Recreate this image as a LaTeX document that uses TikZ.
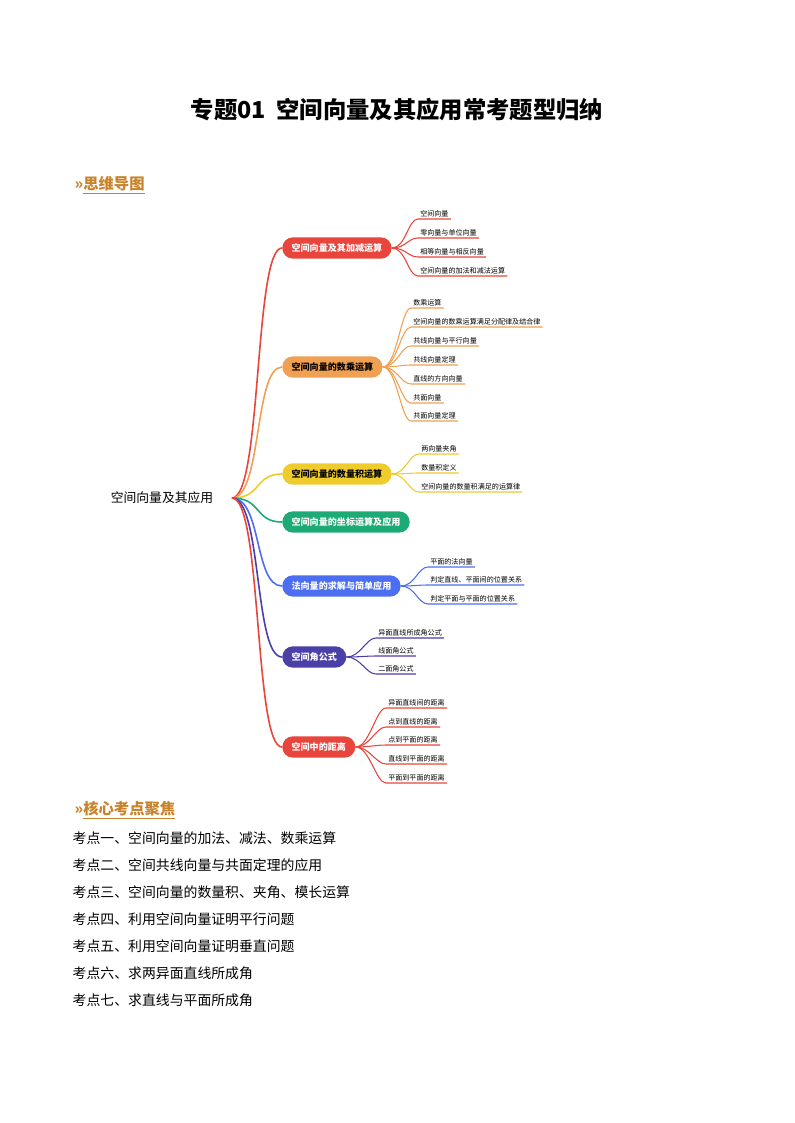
\documentclass[tikz,border=0pt]{standalone}
\usepackage{fontspec}
\setmainfont{Noto Sans CJK SC}
\usetikzlibrary{positioning}
\definecolor{cRed}{HTML}{E8453C}
\definecolor{cOrange}{HTML}{F0A052}
\definecolor{cYellow}{HTML}{EFCB2B}
\definecolor{cGreen}{HTML}{1DAA74}
\definecolor{cBlue}{HTML}{4C6EF0}
\definecolor{cPurple}{HTML}{4B3FA8}
\definecolor{cHead}{HTML}{C8822A}
\tikzset{
  branch/.style={rounded corners=8pt,minimum height=16pt,inner xsep=7pt,font=\fontsize{6.8}{8}\selectfont\bfseries,anchor=west},
  leaf/.style={anchor=south west,inner sep=1.5pt,font=\fontsize{5.3}{6}\selectfont},
  item/.style={anchor=west,font=\fontsize{10.4}{12}\selectfont},
}
\begin{document}
\begin{tikzpicture}[x=0.75pt,y=-0.75pt]
      \useasboundingbox (0,0) rectangle (794,1123);

      \node (title) at (397,110) {\fontsize{17.5}{20}\selectfont\bfseries 专题01\ \ 空间向量及其应用常考题型归纳};
      \node[anchor=west,text=cHead] (head1) at (70,185) {\fontsize{11.5}{13}\selectfont\bfseries »\underline{思维导图}};
      \node[anchor=west,text=cHead] (head2) at (70,810) {\fontsize{11.5}{13}\selectfont\bfseries »\underline{核心考点聚焦}};

      \node[font=\fontsize{9.6}{11}\selectfont] (root) at (162,498) {空间向量及其应用};
      \coordinate (rootend) at (232,498);

      % branches
      \node[branch,fill=cRed,text=white] (b1) at (282,248) {空间向量及其加减运算};
      \node[branch,fill=cOrange] (b2) at (282,367) {空间向量的数乘运算};
      \node[branch,fill=cYellow] (b3) at (282,474) {空间向量的数量积运算};
      \node[branch,fill=cGreen,text=white] (b4) at (282,522) {空间向量的坐标运算及应用};
      \node[branch,fill=cBlue,text=white] (b5) at (282,586) {法向量的求解与简单应用};
      \node[branch,fill=cPurple,text=white] (b6) at (282,657) {空间角公式};
      \node[branch,fill=cRed,text=white] (b7) at (282,747) {空间中的距离};

      \foreach \b/\c in {b1/cRed,b2/cOrange,b3/cYellow,b4/cGreen,b5/cBlue,b6/cPurple,b7/cRed}
        \draw[\c,line width=1.2pt] (rootend) .. controls +(30,0) and +(-28,0) .. (\b.west);

      % leaves
      \foreach \b/\c/\x/\y/\t [count=\i] in {
        b1/cRed/418/219/空间向量, b1/cRed/418/238/零向量与单位向量, b1/cRed/418/257/相等向量与相反向量, b1/cRed/418/276/空间向量的加法和减法运算,
        b2/cOrange/411/308/数乘运算, b2/cOrange/411/327/空间向量的数乘运算满足分配律及结合律, b2/cOrange/411/346/共线向量与平行向量,
        b2/cOrange/411/365/共线向量定理, b2/cOrange/411/384/直线的方向向量, b2/cOrange/411/403/共面向量, b2/cOrange/411/421/共面向量定理,
        b3/cYellow/419/454/两向量夹角, b3/cYellow/419/473/数量积定义, b3/cYellow/419/492/空间向量的数量积满足的运算律,
        b5/cBlue/428/567/平面的法向量, b5/cBlue/428/585/判定直线、平面间的位置关系, b5/cBlue/428/604/判定平面与平面的位置关系,
        b6/cPurple/376/638/异面直线所成角公式, b6/cPurple/376/656/线面角公式, b6/cPurple/376/674/二面角公式,
        b7/cRed/386/708/异面直线间的距离, b7/cRed/386/727/点到直线的距离, b7/cRed/386/745/点到平面的距离, b7/cRed/386/764/直线到平面的距离, b7/cRed/386/783/平面到平面的距离}
      {
        \node[leaf] (l\i) at (\x,\y) {\t};
        \draw[\c,line width=0.8pt] (\b.east) .. controls +(14,0) and +(-10,0) .. (l\i.south west) -- (l\i.south east);
      }

      % key points
      \foreach \t [count=\i] in {考点一、空间向量的加法、减法、数乘运算, 考点二、空间共线向量与共面定理的应用,
        考点三、空间向量的数量积、夹角、模长运算, 考点四、利用空间向量证明平行问题, 考点五、利用空间向量证明垂直问题,
        考点六、求两异面直线所成角, 考点七、求直线与平面所成角}
        \node[item] (k\i) at (68,{838+27*(\i-1)}) {\t};
\end{tikzpicture}
\end{document}
